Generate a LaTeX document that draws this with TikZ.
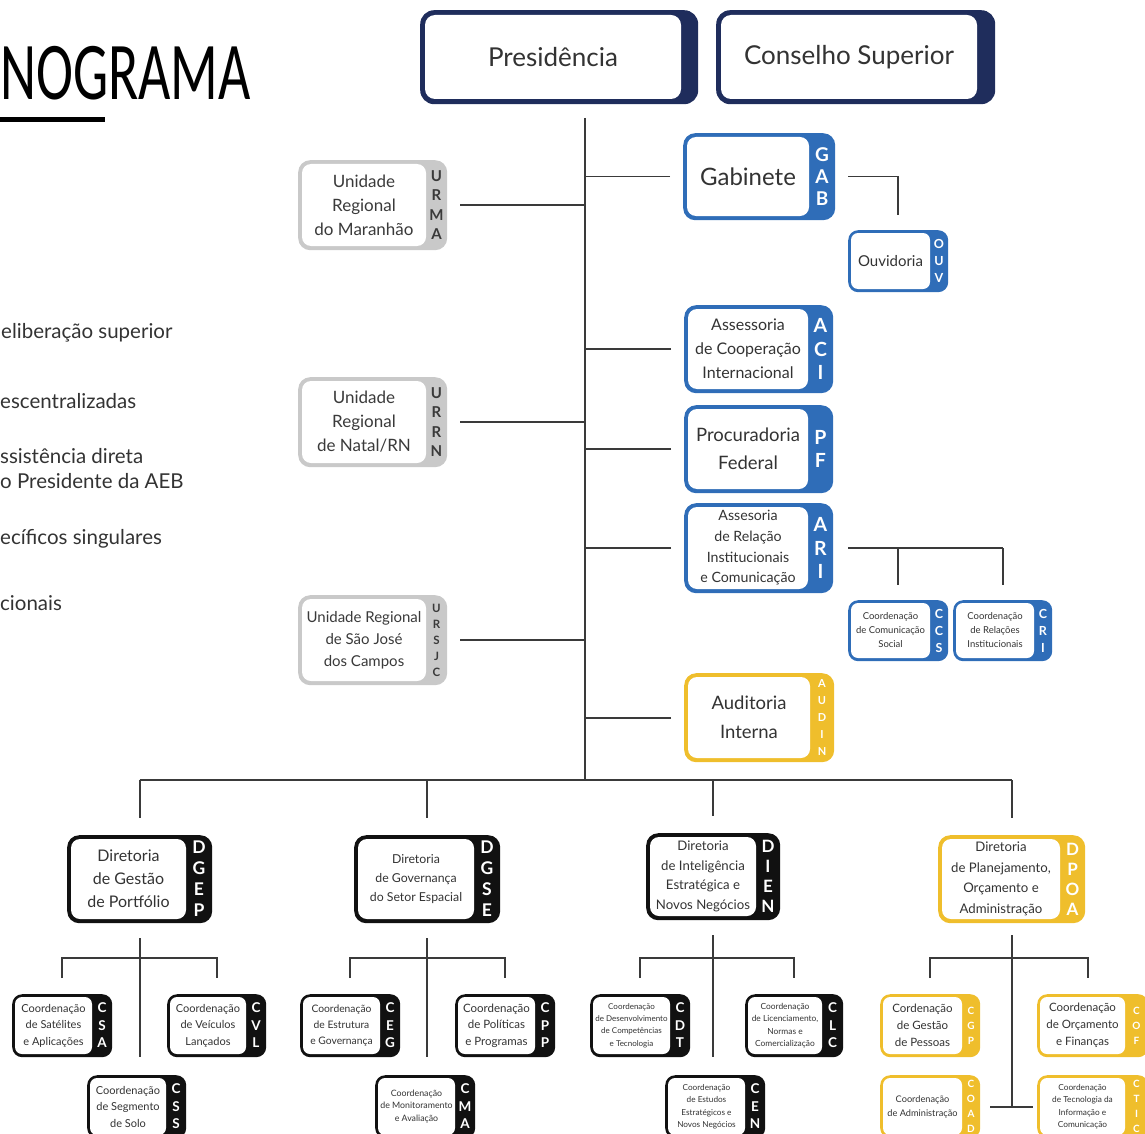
\documentclass[tikz,border=0pt]{standalone}
\usepackage{fontspec}
\setmainfont{Lato}
\newfontfamily\titlefont{Carlito}
\usetikzlibrary{calc}
\definecolor{navy}{HTML}{1F2D5C}
\definecolor{aebblue}{HTML}{2F6DB8}
\definecolor{aebgray}{HTML}{C9C9C9}
\definecolor{aebgold}{HTML}{EFBE2C}
\definecolor{aebblack}{HTML}{111111}
\definecolor{txt}{HTML}{333333}
\definecolor{lnc}{HTML}{3A3A3A}
\def\bxt{4}\def\bxro{12}\def\bxri{9}
\def\bxabf{\bfseries}\def\bxabc{white}\def\bxtc{txt}
\newcommand{\bxtext}[3]{%
  \node[align=center, inner sep=0pt, text=\bxtc, font=#2] (#1-t) at (#1-tc) {#3};}
\newcommand{\obox}[9]{%
  \pgfmathsetmacro\bxw{#4-#2}%
  \pgfmathsetmacro\bxh{#5-#3}%
  \node[fill=#7, rounded corners=\bxro pt, minimum width=\bxw pt, minimum height=\bxh pt,
        inner sep=0pt, anchor=north west] (#1) at (#2,#3) {};
  \fill[white, rounded corners=\bxri pt] ({#2+\bxt},{#3+\bxt}) rectangle (#6,{#5-\bxt});
  \coordinate (#1-tc) at ({(#2+\bxt+#6)/2},{(#3+#5)/2});
  \bxtext{#1}#8
  \node[align=center, inner sep=0pt, text=\bxabc, font=\bxabf] (#1-a) at ({(#6+#4)/2},{(#3+#5)/2}) {#9};
}
\begin{document}
\begin{tikzpicture}[x=1pt,y=-1pt,
  conn/.style={draw=lnc, line width=1.6pt},
  legend/.style={anchor=west, inner sep=0pt, text=txt, align=left, font=\fontsize{20.5}{25}\selectfont}]
\useasboundingbox (0,0) rectangle (1145,1134);
\clip (0,0) rectangle (1145,1134);

% title and legend
\node[anchor=base west, inner sep=0pt] (title) at (0,100) {\scalebox{0.68}[1]{\titlefont\fontsize{82}{90}\selectfont NOGRAMA}};
\fill (0,117) rectangle (105,122);
\node[legend] (l1) at (1,333) {eliberação superior};
\node[legend] (l2) at (0,401) {escentralizadas};
\node[legend] (l3) at (0,469) {ssistência direta\\o Presidente da AEB};
\node[legend] (l4) at (0,539) {ecíficos singulares};
\node[legend] (l5) at (0,603) {cionais};

% top
\def\bxt{5}\def\bxro{14}\def\bxri{10}
\obox{pres}{420}{10}{698}{104}{681}{navy}{{\fontsize{26}{30}\selectfont}{Presidência}}{}
\obox{cons}{716}{10}{995}{104}{977}{navy}{{\fontsize{26}{30}\selectfont}{Conselho Superior}}{}

% regional units
\def\bxt{4}\def\bxro{12}\def\bxri{9}
\def\bxabc{lnc}\def\bxtc{lnc}
\def\bxabf{\fontsize{15}{19.5}\selectfont\bfseries}
\obox{urma}{298}{160}{447}{250}{426}{aebgray}{{\fontsize{17}{24}\selectfont}{Unidade\\Regional\\do Maranhão}}{U\\R\\M\\A}
\obox{urrn}{298}{377}{447}{467}{426}{aebgray}{{\fontsize{17}{24}\selectfont}{Unidade\\Regional\\de Natal/RN}}{U\\R\\R\\N}
\def\bxabf{\fontsize{11.5}{16}\selectfont\bfseries}
\obox{ursjc}{298}{595}{447}{685}{426}{aebgray}{{\fontsize{15}{22}\selectfont}{Unidade Regional\\de São José\\dos Campos}}{U\\R\\S\\J\\C}

% blue units
\def\bxabc{white}\def\bxtc{txt}
\def\bxabf{\fontsize{19}{22}\selectfont\bfseries}
\obox{gab}{683}{133}{835}{220}{809}{aebblue}{{\fontsize{24}{28}\selectfont}{Gabinete}}{G\\A\\B}
\def\bxabf{\fontsize{19.5}{23.5}\selectfont\bfseries}
\obox{aci}{684}{305}{833}{393}{808}{aebblue}{{\fontsize{16}{24}\selectfont}{Assessoria\\de Cooperação\\Internacional}}{A\\C\\I}
\obox{pf}{684}{405}{833}{493}{808}{aebblue}{{\fontsize{18.5}{28}\selectfont}{Procuradoria\\Federal}}{P\\F}
\obox{ari}{684}{503}{833}{593}{808}{aebblue}{{\fontsize{14.2}{20.7}\selectfont}{Assesoria\\de Relação\\Institucionais\\e Comunicação}}{A\\R\\I}
\def\bxt{3}\def\bxro{10}\def\bxri{7}
\def\bxabf{\fontsize{12.5}{17}\selectfont\bfseries}
\obox{ouv}{848}{230}{948}{292}{930}{aebblue}{{\fontsize{15}{18}\selectfont}{Ouvidoria}}{O\\U\\V}
\obox{ccs}{848}{600}{948}{661}{930}{aebblue}{{\fontsize{9.5}{14}\selectfont}{Coordenação\\de Comunicação\\Social}}{C\\C\\S}
\obox{cri}{953}{600}{1052}{661}{1034}{aebblue}{{\fontsize{9.5}{14}\selectfont}{Coordenação\\de Relações\\Institucionais}}{C\\R\\I}
\def\bxt{4}\def\bxro{12}\def\bxri{9}
\def\bxabf{\fontsize{11}{16.8}\selectfont\bfseries}
\obox{audin}{684}{673}{834}{762}{810}{aebgold}{{\fontsize{18.5}{29}\selectfont}{Auditoria\\Interna}}{A\\U\\D\\I\\N}

% directorates
\def\bxabf{\fontsize{17.5}{21}\selectfont\bfseries}
\obox{dgep}{67}{835}{212}{923}{186}{aebblack}{{\fontsize{16}{23}\selectfont}{Diretoria\\de Gestão\\de Portfólio}}{D\\G\\E\\P}
\obox{dgse}{354}{835}{500}{923}{474}{aebblack}{{\fontsize{12.3}{19}\selectfont}{Diretoria\\de Governança\\do Setor Espacial}}{D\\G\\S\\E}
\def\bxabf{\fontsize{17}{20}\selectfont\bfseries}
\obox{dien}{646}{833}{780}{920}{756}{aebblack}{{\fontsize{13.2}{19.7}\selectfont}{Diretoria\\de Inteligência\\Estratégica e\\Novos Negócios}}{D\\I\\E\\N}
\obox{dpoa}{938}{835}{1085}{923}{1060}{aebgold}{{\fontsize{13.2}{20.5}\selectfont}{Diretoria\\de Planejamento,\\Orçamento e\\Administração}}{D\\P\\O\\A}

% coordinations
\def\bxt{3}\def\bxro{10}\def\bxri{7}
\def\bxabf{\fontsize{13.5}{17.5}\selectfont\bfseries}
\obox{csa}{12}{994}{112}{1057}{92}{aebblack}{{\fontsize{11}{16.5}\selectfont}{Coordenação\\de Satélites\\e Aplicações}}{C\\S\\A}
\obox{cvl}{167}{994}{266}{1057}{246}{aebblack}{{\fontsize{11}{16.5}\selectfont}{Coordenação\\de Veículos\\Lançados}}{C\\V\\L}
\obox{css}{87}{1075}{186}{1138}{166}{aebblack}{{\fontsize{11}{16.5}\selectfont}{Coordenação\\de Segmento\\de Solo}}{C\\S\\S}
\obox{ceg}{300}{994}{400}{1057}{380}{aebblack}{{\fontsize{10.3}{16}\selectfont}{Coordenação\\de Estrutura\\e Governança}}{C\\E\\G}
\obox{cpp}{455}{994}{555}{1057}{535}{aebblack}{{\fontsize{11.5}{16.5}\selectfont}{Coordenação\\de Políticas\\e Programas}}{C\\P\\P}
\obox{cma}{375}{1075}{475}{1138}{455}{aebblack}{{\fontsize{8.8}{12.5}\selectfont}{Coordenação\\de Monitoramento\\e Avaliação}}{C\\M\\A}
\obox{cdt}{590}{994}{690}{1057}{670}{aebblack}{{\fontsize{8}{12.3}\selectfont}{Coordenação\\de Desenvolvimento\\de Competências\\e Tecnologia}}{C\\D\\T}
\obox{clc}{745}{994}{843}{1057}{822}{aebblack}{{\fontsize{8.4}{12.3}\selectfont}{Coordenação\\de Licenciamento,\\Normas e\\Comercialização}}{C\\L\\C}
\obox{cen}{665}{1075}{765}{1138}{745}{aebblack}{{\fontsize{8.2}{12.5}\selectfont}{Coordenação\\de Estudos\\Estratégicos e\\Novos Negócios}}{C\\E\\N}
\def\bxabf{\fontsize{10}{15}\selectfont\bfseries}
\obox{cgp}{880}{994}{980}{1057}{962}{aebgold}{{\fontsize{11.5}{17}\selectfont}{Cordenação\\de Gestão\\de Pessoas}}{C\\G\\P}
\obox{cof}{1037}{994}{1148}{1057}{1125}{aebgold}{{\fontsize{11.5}{17}\selectfont}{Coordenação\\de Orçamento\\e Finanças}}{C\\O\\F}
\obox{coad}{880}{1075}{980}{1138}{962}{aebgold}{{\fontsize{9.2}{14}\selectfont}{Coordenação\\de Administração}}{C\\O\\A\\D}
\obox{ctic}{1037}{1075}{1148}{1138}{1125}{aebgold}{{\fontsize{8.3}{12.5}\selectfont}{Coordenação\\de Tecnologia da\\Informação e\\Comunicação}}{C\\T\\I\\C}

% trunk
\coordinate (ttop) at (585,118);
\coordinate (tbot) at (585,780);
\draw[conn] (ttop) -- (tbot);
\foreach \n in {urma,urrn,ursjc}
  \draw[conn] ([xshift=13pt]\n.east) -- (\n.east -| ttop);
\foreach \n in {gab,aci,pf,ari,audin}
  \draw[conn] ([xshift=-13pt]\n.west) -- (\n.west -| ttop);
\draw[conn] ([xshift=13pt]gab.east) -| ([yshift=15pt]ouv.north);
\draw[conn] ([xshift=15pt]ari.east) -- (ari.east -| cri.north);
\draw[conn] (ccs.north |- ari.east) -- ([yshift=15pt]ccs.north);
\draw[conn] (cri.north |- ari.east) -- ([yshift=15pt]cri.north);

% bottom bus
\draw[conn] (dgep.north |- tbot) -- (dpoa.north |- tbot);
\foreach \n in {dgep,dgse,dien,dpoa}
  \draw[conn] (\n.north |- tbot) -- ([yshift=17pt]\n.north);

% groups
\draw[conn] ([yshift=-15pt]dgep.south) -- ([yshift=18pt]dgep.south |- css.north);
\draw[conn] ([yshift=16pt]csa.north) |- ([yshift=36pt]cvl.north) -- ([yshift=16pt]cvl.north);
\draw[conn] ([yshift=-15pt]dgse.south) -- ([yshift=18pt]dgse.south |- cma.north);
\draw[conn] ([yshift=16pt]ceg.north) |- ([yshift=36pt]cpp.north) -- ([yshift=16pt]cpp.north);
\draw[conn] ([yshift=-15pt]dien.south) -- ([yshift=18pt]dien.south |- cen.north);
\draw[conn] ([yshift=16pt]cdt.north) |- ([yshift=36pt]clc.north) -- ([yshift=16pt]clc.north);
\draw[conn] ([yshift=-12pt]dpoa.south) -- (dpoa.south |- coad.east);
\draw[conn] ([yshift=16pt]cgp.north) |- ([yshift=36pt,xshift=-5pt]cof.north) -- ([yshift=16pt,xshift=-5pt]cof.north);
\draw[conn] ([xshift=10pt]coad.east) -- ([xshift=-4pt]ctic.west);
\end{tikzpicture}
\end{document}
